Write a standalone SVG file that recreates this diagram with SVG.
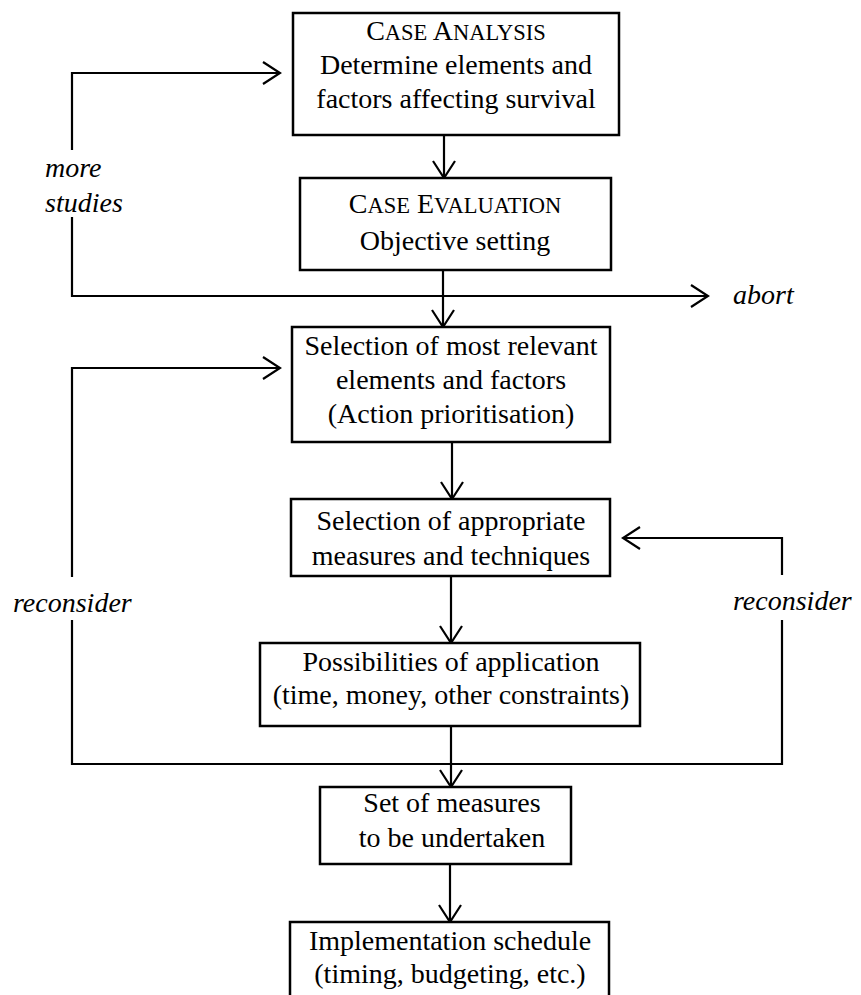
<svg xmlns="http://www.w3.org/2000/svg" width="861" height="995" viewBox="0 0 861 995">
<style>
.box{fill:#fff;stroke:#000;stroke-width:2.5}
.t{font-family:"Liberation Serif","Times New Roman",serif;font-size:28px;fill:#000;text-anchor:middle}
.lab{font-family:"Liberation Serif","Times New Roman",serif;font-size:28px;font-style:italic;fill:#000}
.sc{font-size:22.5px}
.c{fill:none;stroke:#000;stroke-width:2.2}
</style>
<defs>
<marker id="ah" viewBox="-20 -14 22 28" refX="0" refY="0" markerWidth="22" markerHeight="28" markerUnits="userSpaceOnUse" orient="auto">
<path d="M-17,-11 L0,0 L-17,11" fill="none" stroke="#000" stroke-width="2.2"/>
</marker>
</defs>
<rect width="861" height="995" fill="#fff"/>
<g id="connectors">
<path class="c" d="M72,150 V73 H280" marker-end="url(#ah)"/>
<path class="c" d="M72,217 V296 H708" marker-end="url(#ah)"/>
<path class="c" d="M72,577 V368 H280" marker-end="url(#ah)"/>
<path class="c" d="M72,620 V764 H782 V620"/>
<path class="c" d="M782,575 V538 H623" marker-end="url(#ah)"/>
<path class="c" d="M444,135 V178" marker-end="url(#ah)"/>
<path class="c" d="M443,270 V327" marker-end="url(#ah)"/>
<path class="c" d="M452,442 V499" marker-end="url(#ah)"/>
<path class="c" d="M451,576 V643" marker-end="url(#ah)"/>
<path class="c" d="M451,726 V787" marker-end="url(#ah)"/>
<path class="c" d="M450,864 V922" marker-end="url(#ah)"/>
</g>
<g id="labels">
<text class="lab" x="45" y="177">more</text>
<text class="lab" x="45" y="212">studies</text>
<text class="lab" x="733" y="304">abort</text>
<text class="lab" x="13" y="612">reconsider</text>
<text class="lab" x="733" y="610">reconsider</text>
</g>
<g id="case-analysis">
<rect class="box" x="293" y="13" width="326" height="122"/>
<text class="t" x="456" y="40">C<tspan class="sc">ASE</tspan> A<tspan class="sc">NALYSIS</tspan></text>
<text class="t" x="456" y="74">Determine elements and</text>
<text class="t" x="456" y="108">factors affecting survival</text>
</g>
<g id="case-evaluation">
<rect class="box" x="300" y="178" width="311" height="92"/>
<text class="t" x="455" y="213">C<tspan class="sc">ASE</tspan> E<tspan class="sc">VALUATION</tspan></text>
<text class="t" x="455" y="250">Objective setting</text>
</g>
<g id="selection-elements">
<rect class="box" x="292" y="327" width="318" height="115"/>
<text class="t" x="451" y="355">Selection of most relevant</text>
<text class="t" x="451" y="389">elements and factors</text>
<text class="t" x="451" y="423">(Action prioritisation)</text>
</g>
<g id="selection-measures">
<rect class="box" x="291" y="499" width="319" height="77"/>
<text class="t" x="451" y="530">Selection of appropriate</text>
<text class="t" x="451" y="565">measures and techniques</text>
</g>
<g id="possibilities">
<rect class="box" x="260" y="643" width="380" height="83"/>
<text class="t" x="451" y="671">Possibilities of application</text>
<text class="t" x="451" y="704">(time, money, other constraints)</text>
</g>
<g id="set-of-measures">
<rect class="box" x="320" y="787" width="251" height="77"/>
<text class="t" x="452" y="812">Set of measures</text>
<text class="t" x="452" y="847">to be undertaken</text>
</g>
<g id="implementation">
<rect class="box" x="290" y="922" width="319" height="90"/>
<text class="t" x="450" y="950">Implementation schedule</text>
<text class="t" x="450" y="983">(timing, budgeting, etc.)</text>
</g>
</svg>
